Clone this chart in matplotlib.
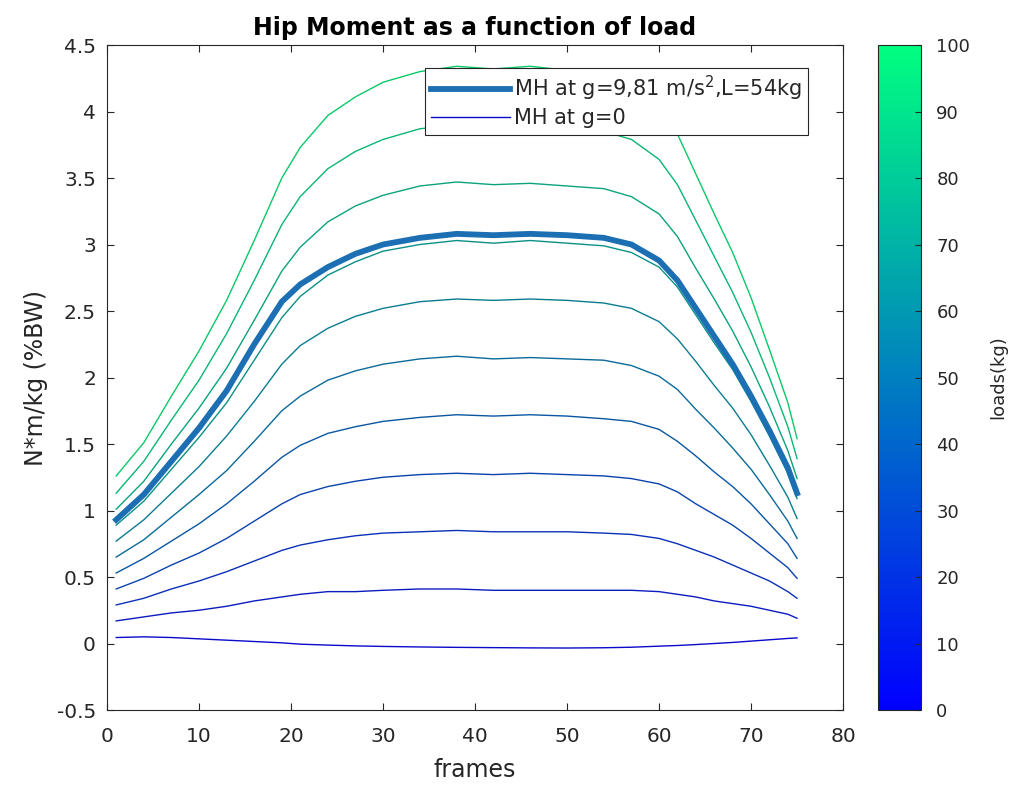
import matplotlib
matplotlib.use('Agg')
import matplotlib.pyplot as plt
import matplotlib.ticker as mticker
import numpy as np

plt.rcParams['font.family'] = ['DejaVu Sans']

# frame numbers where the curves were read
frames = [1, 4, 7, 10, 13, 16, 19, 21, 24, 27, 30, 34, 38, 42, 46, 50, 54, 57,
          60, 62, 64, 66, 68, 70, 72, 74, 75]

# hip moment for each load (kg), N*m/kg
m0 = [0.045, 0.05, 0.045, 0.035, 0.025, 0.015, 0.005, -0.005, -0.012, -0.018, -0.022,
      -0.026, -0.029, -0.031, -0.033, -0.034, -0.032, -0.028, -0.02, -0.015, -0.008,
      0.0, 0.008, 0.018, 0.028, 0.038, 0.042]
m10 = [0.17, 0.20, 0.23, 0.25, 0.28, 0.32, 0.35, 0.37, 0.39, 0.39, 0.40, 0.41, 0.41, 0.40,
       0.40, 0.40, 0.40, 0.40, 0.39, 0.37, 0.35, 0.32, 0.30, 0.28, 0.25, 0.22, 0.19]
m20 = [0.29, 0.34, 0.41, 0.47, 0.54, 0.62, 0.70, 0.74, 0.78, 0.81, 0.83, 0.84, 0.85, 0.84,
       0.84, 0.84, 0.83, 0.82, 0.79, 0.75, 0.70, 0.65, 0.59, 0.53, 0.47, 0.39, 0.34]
m30 = [0.41, 0.49, 0.59, 0.68, 0.79, 0.92, 1.05, 1.12, 1.18, 1.22, 1.25, 1.27, 1.28, 1.27,
       1.28, 1.27, 1.26, 1.24, 1.20, 1.14, 1.05, 0.97, 0.89, 0.79, 0.68, 0.57, 0.49]
m40 = [0.53, 0.64, 0.77, 0.90, 1.05, 1.22, 1.40, 1.49, 1.58, 1.63, 1.67, 1.70, 1.72, 1.71,
       1.72, 1.71, 1.69, 1.67, 1.61, 1.52, 1.41, 1.29, 1.18, 1.05, 0.90, 0.75, 0.64]
m50 = [0.65, 0.78, 0.95, 1.12, 1.30, 1.52, 1.75, 1.86, 1.98, 2.05, 2.10, 2.14, 2.16, 2.14,
       2.15, 2.14, 2.13, 2.09, 2.01, 1.91, 1.76, 1.62, 1.47, 1.31, 1.12, 0.92, 0.79]
m60 = [0.77, 0.93, 1.13, 1.33, 1.56, 1.82, 2.10, 2.24, 2.37, 2.46, 2.52, 2.57, 2.59, 2.58,
       2.59, 2.58, 2.56, 2.52, 2.42, 2.29, 2.12, 1.94, 1.77, 1.57, 1.34, 1.10, 0.94]
m70 = [0.89, 1.07, 1.31, 1.55, 1.81, 2.13, 2.45, 2.61, 2.77, 2.87, 2.95, 3.00, 3.03, 3.01,
       3.03, 3.01, 2.99, 2.94, 2.83, 2.68, 2.47, 2.26, 2.06, 1.82, 1.56, 1.28, 1.09]
m80 = [1.01, 1.22, 1.50, 1.77, 2.07, 2.43, 2.80, 2.98, 3.17, 3.29, 3.37, 3.44, 3.47, 3.45,
       3.46, 3.44, 3.42, 3.36, 3.23, 3.06, 2.82, 2.59, 2.35, 2.08, 1.78, 1.45, 1.24]
m90 = [1.13, 1.37, 1.68, 1.98, 2.33, 2.73, 3.15, 3.36, 3.57, 3.70, 3.79, 3.87, 3.90, 3.88,
       3.90, 3.88, 3.85, 3.79, 3.64, 3.45, 3.18, 2.91, 2.64, 2.34, 2.00, 1.63, 1.39]
m100 = [1.26, 1.51, 1.86, 2.20, 2.58, 3.03, 3.50, 3.73, 3.97, 4.11, 4.22, 4.30, 4.34, 4.32,
        4.34, 4.31, 4.28, 4.21, 4.04, 3.83, 3.53, 3.23, 2.94, 2.60, 2.21, 1.81, 1.54]

# measured case, g=9.81 m/s^2 and L=54kg
mh54 = [0.93, 1.12, 1.37, 1.62, 1.90, 2.25, 2.57, 2.70, 2.83, 2.93, 3.00, 3.05, 3.08, 3.07,
        3.08, 3.07, 3.05, 3.00, 2.88, 2.73, 2.52, 2.31, 2.10, 1.86, 1.60, 1.32, 1.13]

loads = [0, 10, 20, 30, 40, 50, 60, 70, 80, 90, 100]
curves = [m0, m10, m20, m30, m40, m50, m60, m70, m80, m90, m100]

txt = '#262626'
fig = plt.figure(figsize=(10.23, 7.91), dpi=100)
ax = fig.add_axes([0.1046, 0.1024, 0.7195, 0.8407])
cax = fig.add_axes([0.8583, 0.1024, 0.042, 0.8407])

cmap = plt.get_cmap('winter')
norm = matplotlib.colors.Normalize(vmin=0, vmax=100)

thin = []
for load, m in zip(loads, curves):
    c = np.array(cmap(norm(load))[:3])
    c = 0.75 * c + 0.25 * 0.15  # thin lines look a bit darker in the original
    h, = ax.plot(frames, m, color=c, linewidth=1.0, zorder=2)
    thin.append(h)

thick, = ax.plot(frames, mh54, color='#1c6fb3', linewidth=4.2, zorder=3)

ax.set_xlim(0, 80)
ax.set_ylim(-0.5, 4.5)
ax.xaxis.set_major_locator(mticker.MultipleLocator(10))
ax.yaxis.set_major_locator(mticker.MultipleLocator(0.5))
ax.yaxis.set_major_formatter(mticker.FormatStrFormatter('%g'))
ax.tick_params(direction='in', top=True, right=True, length=5, width=0.8,
               labelsize=14.5, colors=txt)
ax.tick_params(axis='x', pad=12)
ax.tick_params(axis='y', pad=8)
for s in ax.spines.values():
    s.set_color(txt)
    s.set_linewidth(0.8)

ax.set_xlabel('frames', fontsize=17, color=txt, labelpad=9)
ax.set_ylabel('N*m/kg (%BW)', fontsize=17, color=txt, labelpad=6)
ax.set_title('Hip Moment as a function of load', fontsize=17, fontweight='bold',
             color='k', pad=7)

leg = ax.legend([thick, thin[0]], ['MH at g=9,81 m/s$^2$,L=54kg', 'MH at g=0'],
                loc='upper right', bbox_to_anchor=(0.952, 0.966), borderaxespad=0,
                fancybox=False, edgecolor=txt, framealpha=1, fontsize=15,
                handlelength=3.8, handletextpad=0.15, borderpad=0.3, labelspacing=0.25)
leg.get_frame().set_linewidth(0.8)
for t in leg.get_texts():
    t.set_color(txt)

sm = matplotlib.cm.ScalarMappable(norm=norm, cmap=cmap)
cb = fig.colorbar(sm, cax=cax, ticks=np.arange(0, 101, 10))
cb.outline.set_edgecolor(txt)
cb.outline.set_linewidth(0.8)
cax.tick_params(direction='in', length=4, width=0.8, labelsize=13, colors=txt, pad=11)
cb.set_label('loads(kg)', fontsize=13, color=txt, labelpad=14)

fig.savefig('out.png', dpi=100, facecolor='white')
